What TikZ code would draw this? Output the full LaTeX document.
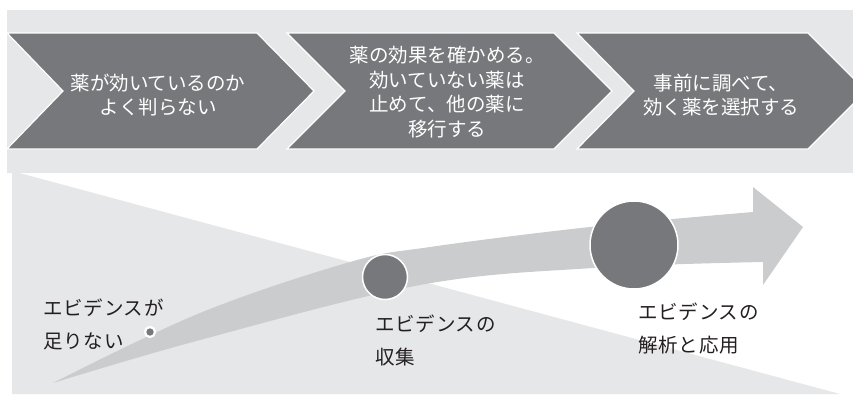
\documentclass[tikz,border=0pt]{standalone}
\usepackage{fontspec}
\setmainfont{Noto Sans CJK JP}
\newfontfamily\lblfont[LetterSpace=4]{Noto Sans CJK JP}
\definecolor{bandc}{HTML}{E6E7E8}
\definecolor{chevc}{HTML}{77787B}
\definecolor{arrc}{HTML}{CBCCCD}
\definecolor{txtc}{HTML}{231F20}
\tikzset{
  chev/.style={fill=chevc, draw=white, line width=1.2pt, line join=miter},
  chevtext/.style={text=white, align=center, inner sep=0pt, font=\fontsize{19.5}{24.5}\selectfont},
  lbl/.style={text=txtc, align=left, inner sep=0pt, anchor=west, font=\lblfont\fontsize{19.5}{33}\selectfont},
  dot/.style={circle, fill=chevc, draw=white, line width=1.5pt, inner sep=0pt},
}
\begin{document}
\begin{tikzpicture}[x=1pt,y=-1pt]
\useasboundingbox (0,0) rectangle (853,394);
\begin{scope}
\clip (0,0) rectangle (853,394);
% top band
\fill[bandc] (7,10) rectangle (853,173);
% lower triangle
\fill[bandc] (12,171) -- (840,394) -- (12,394) -- cycle;
% chevrons
\draw[chev] (7,33) -- (257,33) -- (314,91) -- (257,149) -- (7,149) -- (63,91) -- cycle;
\draw[chev] (287,33) -- (554,33) -- (612,91) -- (554,149) -- (287,149) -- (345,91) -- cycle;
\draw[chev] (577,33) -- (808,33) -- (866,91) -- (808,149) -- (577,149) -- (634,91) -- cycle;
% curved arrow
\fill[arrc] plot[smooth, tension=0.6] coordinates {(53,383) (200,313) (350,262) (430,247) (590,227) (753,212)}
  -- (753,187) -- (803,227) -- (763,285)
  -- plot[smooth, tension=0.6] coordinates {(763,262) (593,268) (420,285) (200,340) (53,383)} -- cycle;
\end{scope}
% chevron texts
\node[chevtext] (t1) at (158,95) {薬が効いているのか\\よく判らない};
\node[chevtext] (t2) at (447,92) {薬の効果を確かめる。\\効いていない薬は\\止めて、他の薬に\\移行する};
\node[chevtext] (t3) at (721,95) {事前に調べて、\\効く薬を選択する};
% circles
\node[dot, minimum size=10pt, line width=2.2pt] (c1) at (150,332) {};
\node[dot, minimum size=45pt] (c2) at (385,277) {};
\node[dot, minimum size=88pt] (c3) at (634,245) {};
% labels
\node[lbl] (l1) at (43,324) {エビデンスが\\足りない};
\node[lbl] (l2) at (375,340) {エビデンスの\\収集};
\node[lbl] (l3) at (638,329) {エビデンスの\\解析と応用};
\end{tikzpicture}
\end{document}
